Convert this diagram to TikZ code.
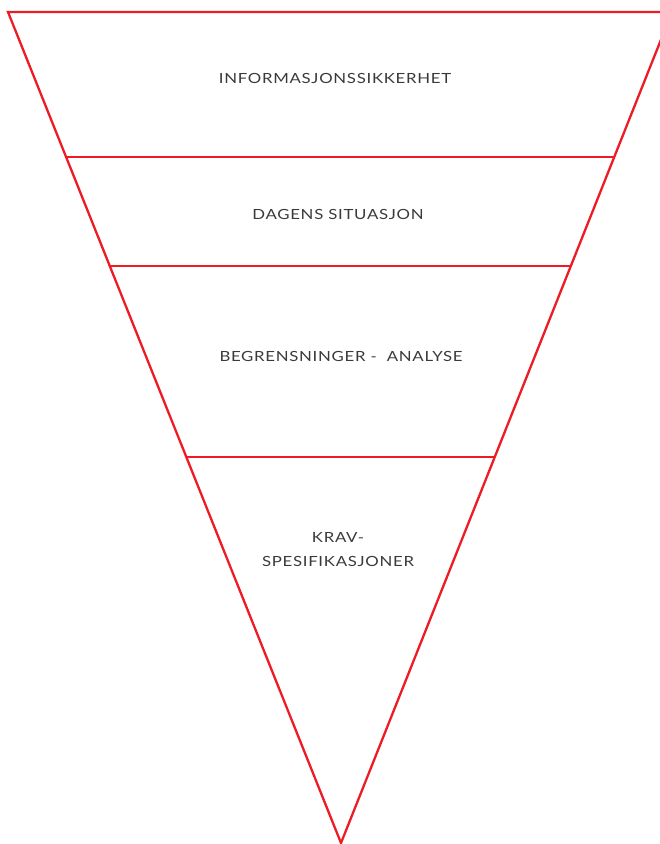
\documentclass[tikz,border=0pt]{standalone}
\usepackage{fontspec}
\setmainfont{Lato}[FakeStretch=1.2,LetterSpace=5]
\usetikzlibrary{calc}
\definecolor{funnel}{HTML}{ED1C24}
\definecolor{ink}{HTML}{3A3A3A}
\tikzset{
  rim/.style={draw=funnel,line width=2.3pt,line join=miter},
  layer/.style={draw=funnel,line width=2.3pt},
  lbl/.style={text=ink,align=center,font=\fontsize{14}{24}\selectfont,inner sep=0pt},
}
\begin{document}
\begin{tikzpicture}[x=1pt,y=-1pt]
\clip (0,0) rectangle (660,844);
\useasboundingbox (0,0) rectangle (660,844);
% outer funnel
\coordinate (tl) at (8,12);
\coordinate (tr) at (672,12);
\coordinate (apex) at (341,843);
\draw[rim] (tl) -- (tr) -- (apex) -- cycle;
% layer lines
\coordinate (l1) at ($(tl)!0.1745!(apex)$);
\coordinate (r1) at ($(tr)!0.1745!(apex)$);
\coordinate (l2) at ($(tl)!0.3057!(apex)$);
\coordinate (r2) at ($(tr)!0.3057!(apex)$);
\coordinate (l3) at ($(tl)!0.5355!(apex)$);
\coordinate (r3) at ($(tr)!0.5355!(apex)$);
\draw[layer] (l1) -- (r1);
\draw[layer] (l2) -- (r2);
\draw[layer] (l3) -- (r3);
% labels
\node[lbl] (info) at (335,78) {INFORMASJONSSIKKERHET};
\node[lbl] (dagens) at (338,214) {DAGENS SITUASJON};
\node[lbl] (begr) at (341,356) {BEGRENSNINGER -\ \ ANALYSE};
\node[lbl] (krav) at (338,550) {KRAV-\\SPESIFIKASJONER};
\end{tikzpicture}
\end{document}
